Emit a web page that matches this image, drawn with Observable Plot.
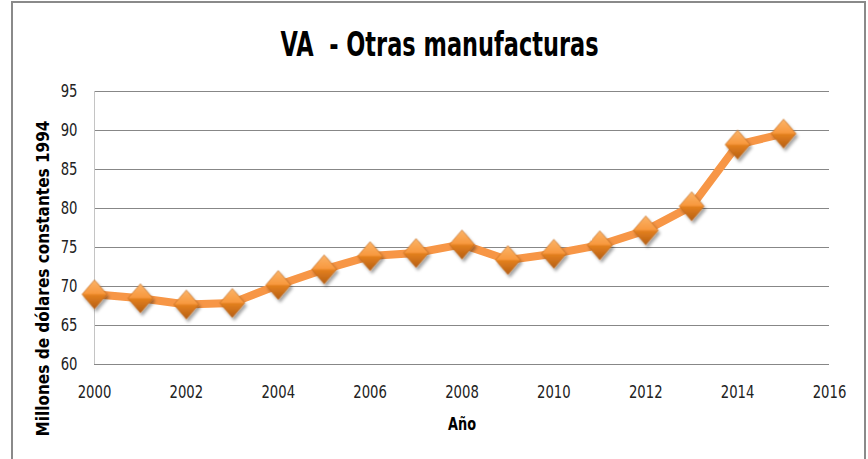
<!DOCTYPE html>
<html><head><meta charset="utf-8">
<script src="https://cdn.jsdelivr.net/npm/d3@7"></script>
<script src="https://cdn.jsdelivr.net/npm/@observablehq/plot@0.6"></script>
<style>
body{margin:0;background:#fff}
</style>
</head><body><div id="chart"></div>
<script>
const years  = [2000,2001,2002,2003,2004,2005,2006,2007,2008,2009,2010,2011,2012,2013,2014,2015];
const values = [69.0,68.5,67.7,67.9,70.2,72.2,73.9,74.3,75.4,73.4,74.2,75.3,77.2,80.3,88.2,89.6];
const yTicks = [60,65,70,75,80,85,90,95];
const xTicks = [2000,2002,2004,2006,2008,2010,2012,2014,2016];
const titleText = "VA  - Otras manufacturas";
const yLabel = "Millones de dólares constantes 1994";
const xLabel = "Año";

const data = years.map((y,i)=>({year:y, value:values[i]}));

const diamondSym = {
  draw(ctx, size){
    const s = Math.sqrt(size/Math.PI);
    const h = s, w = s*0.86;
    ctx.moveTo(0,-h); ctx.lineTo(w,0); ctx.lineTo(0,h); ctx.lineTo(-w,0); ctx.closePath();
  }
};

const font = "'Liberation Sans Narrow', 'DejaVu Sans Condensed', 'Roboto', sans-serif";

const chart = Plot.plot({
  width: 868, height: 459,
  marginLeft: 94, marginRight: 39, marginTop: 91, marginBottom: 95,
  style: {fontFamily: font, fontSize: "17px", color: "#222", background: "#fff"},
  x: {domain: [2000, 2016]},
  y: {domain: [60, 95]},
  marks: [
    Plot.ruleY(yTicks, {stroke: "#878787", strokeWidth: 1, strokeOpacity: 1}),
    Plot.ruleX([2000], {stroke: "#c4c4c4", strokeWidth: 1}),
    Plot.axisY({ticks: yTicks, tickSize: 0, tickPadding: 17, label: null, fontSize: 17}),
    Plot.axisX({ticks: xTicks, tickSize: 0, tickPadding: 21, tickFormat: d3.format("d"), label: null, fontSize: 17}),
    Plot.line(data, {x: "year", y: "value", stroke: "#F79646", strokeWidth: 8, strokeLinejoin: "round"}),
    Plot.dot(data, {x: "year", y: "value", symbol: diamondSym, r: 14.5, fill: "url(#dgrad)", stroke: "#B8641C", strokeWidth: 0.6}),
    Plot.text([titleText], {frameAnchor: "top", textAnchor: "middle", lineAnchor: "bottom", dx: -22.5, dy: -36, fontSize: 33, fontWeight: "bold", fill: "#000"}),
    Plot.text([yLabel], {frameAnchor: "left", textAnchor: "middle", lineAnchor: "middle", dx: -51, dy: 50.5, rotate: -90, fontSize: 17, fontWeight: "bold", fill: "#000"}),
    Plot.text([xLabel], {frameAnchor: "bottom", textAnchor: "middle", lineAnchor: "bottom", dx: 0, dy: 65, fontSize: 17, fontWeight: "bold", fill: "#000"})
  ]
});

const svg = d3.select(chart);
const defs = svg.insert("defs", ":first-child");
const g = defs.append("linearGradient").attr("id", "dgrad").attr("x1", 0).attr("y1", 0).attr("x2", 0).attr("y2", 1);
[[0,"#FBB469"],[0.47,"#F8993F"],[0.53,"#E3801F"],[1,"#B65F14"]].forEach(([o,c]) =>
  g.append("stop").attr("offset", o).attr("stop-color", c));
const f = defs.append("filter").attr("id", "dshadow").attr("x", "-50%").attr("y", "-50%").attr("width", "200%").attr("height", "200%");
f.append("feDropShadow").attr("dx", 2).attr("dy", 3).attr("stdDeviation", 1.8).attr("flood-color", "#000").attr("flood-opacity", 0.35);
svg.selectAll("g[aria-label='dot']").attr("filter", "url(#dshadow)");
const fitWidths = new Map([[titleText, 318], [yLabel, 316], [xLabel, 28]]);
svg.selectAll("text").each(function(){
  const t = this.textContent;
  if (fitWidths.has(t)) {
    d3.select(this).style("white-space", "pre")
      .attr("textLength", fitWidths.get(t)).attr("lengthAdjust", "spacingAndGlyphs");
  } else if (/^\d+$/.test(t)) {
    d3.select(this).attr("textLength", t.length * 8.4).attr("lengthAdjust", "spacingAndGlyphs");
  }
});
svg.append("rect").attr("x", 12).attr("y", 2).attr("width", 853).attr("height", 480)
  .attr("fill", "none").attr("stroke", "#8a8a8a").attr("stroke-width", 2);

document.getElementById("chart").append(chart);
</script>
</body></html>
